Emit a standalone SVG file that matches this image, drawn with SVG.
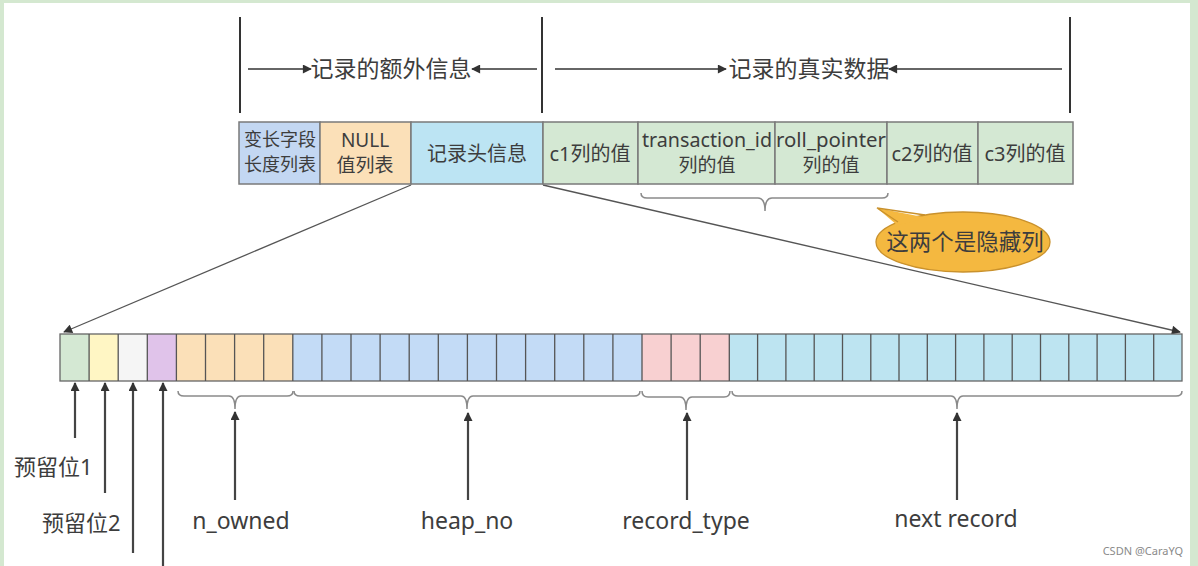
<svg xmlns="http://www.w3.org/2000/svg" width="1198" height="566" viewBox="0 0 1198 566">
<defs>
<marker id="ah" viewBox="0 0 10 10" refX="9" refY="5" markerWidth="10" markerHeight="9" markerUnits="userSpaceOnUse" orient="auto">
<path d="M0,0 L10,5 L0,10 z" fill="#333"/>
</marker>
<style>
text{font-family:"Noto Sans","Noto Sans CJK SC",sans-serif;fill:#3d3d3d}
.t22{font-size:23px}
.t18{font-size:18px;text-anchor:middle}
.t19{font-size:19px;text-anchor:middle}
.t20{font-size:20px;text-anchor:middle}
.t21{font-size:22px}
.lab{font-size:23px;text-anchor:middle}
.vbar{stroke:#333;stroke-width:2}
.arr{stroke:#333;stroke-width:1.6;fill:none;marker-end:url(#ah)}
.uarr{stroke:#444;stroke-width:2.2;fill:none;marker-end:url(#ah)}
.diag{stroke:#555;stroke-width:1.3;fill:none;marker-end:url(#ah)}
.cell{stroke:#7a7a7a;stroke-width:1.5}
.bit{stroke:#555;stroke-width:1.3}
.brace{stroke:#8a8a8a;stroke-width:1.5;fill:none}
</style>
</defs>
<rect x="0" y="0" width="1198" height="566" fill="#d4e8d0"/>
<rect x="4" y="3" width="1186" height="563" fill="#ffffff"/>

<g id="header">
<line class="vbar" x1="240" y1="17" x2="240" y2="113"/>
<line class="vbar" x1="542" y1="17" x2="542" y2="113"/>
<line class="vbar" x1="1070" y1="17" x2="1070" y2="113"/>
<line class="arr" x1="248" y1="69" x2="311" y2="69"/>
<line class="arr" x1="537" y1="69" x2="472" y2="69"/>
<line class="arr" x1="555" y1="69" x2="726" y2="69"/>
<line class="arr" x1="1062" y1="69" x2="889" y2="69"/>
<text class="t22" x="391" y="77" text-anchor="middle">记录的额外信息</text>
<text class="t22" x="809" y="77" text-anchor="middle">记录的真实数据</text>
</g>

<g id="connectors">
<line class="diag" x1="411" y1="185" x2="64" y2="332"/>
<line class="diag" x1="543" y1="185" x2="1180" y2="332"/>
</g>

<g id="record-row">
<rect class="cell" x="239" y="122" width="81" height="62" fill="#c3d7f2"/>
<rect class="cell" x="320" y="122" width="91" height="62" fill="#fbe0b8"/>
<rect class="cell" x="411" y="122" width="132" height="62" fill="#bce4f3"/>
<rect class="cell" x="543" y="122" width="95" height="62" fill="#d4e8d3"/>
<rect class="cell" x="638" y="122" width="137" height="62" fill="#d4e8d3"/>
<rect class="cell" x="775" y="122" width="112" height="62" fill="#d4e8d3"/>
<rect class="cell" x="887" y="122" width="91" height="62" fill="#d4e8d3"/>
<rect class="cell" x="978" y="122" width="95" height="62" fill="#d4e8d3"/>
<text class="t18" x="280" y="146">变长字段</text>
<text class="t18" x="280" y="171">长度列表</text>
<text class="t19" x="365" y="147">NULL</text>
<text class="t19" x="365" y="172">值列表</text>
<text class="t20" x="477" y="161">记录头信息</text>
<text class="t20" x="590" y="161">c1列的值</text>
<text class="t19" x="707" y="147" textLength="130" lengthAdjust="spacingAndGlyphs">transaction_id</text>
<text class="t19" x="707" y="172">列的值</text>
<text class="t19" x="831" y="147" textLength="110" lengthAdjust="spacingAndGlyphs">roll_pointer</text>
<text class="t19" x="831" y="172">列的值</text>
<text class="t20" x="932" y="161">c2列的值</text>
<text class="t20" x="1025" y="161">c3列的值</text>
</g>

<g id="hidden-brace">
<path class="brace" d="M641,193 Q641,198 647,198 L758,198 Q765,198 765,211 Q765,198 772,198 L882,198 Q888,198 888,193"/>
</g>

<g id="callout">
<ellipse cx="963" cy="242" rx="87" ry="30" fill="#f4b840" stroke="#c9912c" stroke-width="1.3"/>
<polygon points="897,225 877,208 928,218" fill="#f4b840"/>
<polyline points="898,222 877,208 925,215" fill="none" stroke="#c9912c" stroke-width="1.3"/>
<text x="965" y="250" text-anchor="middle" style="font-size:22.5px">这两个是隐藏列</text>
</g>

<g id="bit-row">
<rect x="60" y="334" width="29.1" height="47" fill="#d4e8d3"/>
<rect x="89.1" y="334" width="29.1" height="47" fill="#fff6c4"/>
<rect x="118.2" y="334" width="29.1" height="47" fill="#f5f5f5"/>
<rect x="147.3" y="334" width="29.1" height="47" fill="#e0c3ea"/>
<rect x="176.4" y="334" width="116.4" height="47" fill="#fbe0b8"/>
<rect x="292.8" y="334" width="349.2" height="47" fill="#c3dbf6"/>
<rect x="642" y="334" width="87.3" height="47" fill="#f8d0d1"/>
<rect x="729.3" y="334" width="452.7" height="47" fill="#bde4f1"/>
<rect x="60" y="334" width="1122" height="47" fill="none" stroke="#666" stroke-width="1.3"/>
<path class="bit" d="M89.1,334V381M118.2,334V381M147.3,334V381M176.4,334V381M205.5,334V381M234.6,334V381M263.7,334V381M292.8,334V381M321.9,334V381M351,334V381M380.1,334V381M409.2,334V381M438.3,334V381M467.4,334V381M496.5,334V381M525.6,334V381M554.7,334V381M583.8,334V381M612.9,334V381M642,334V381M671.1,334V381M700.2,334V381M729.3,334V381M757.6,334V381M785.9,334V381M814.2,334V381M842.5,334V381M870.8,334V381M899,334V381M927.3,334V381M955.6,334V381M983.9,334V381M1012.2,334V381M1040.5,334V381M1068.8,334V381M1097.1,334V381M1125.4,334V381M1153.7,334V381"/>
</g>

<g id="bit-braces">
<path class="brace" d="M178,391 Q178,396 184,396 L229,396 Q235,396 235,409 Q235,396 241,396 L287,396 Q293,396 293,391"/>
<path class="brace" d="M294,391 Q294,396 300,396 L461,396 Q467,396 467,409 Q467,396 473,396 L634,396 Q640,396 640,391"/>
<path class="brace" d="M642,391 Q642,397 648,397 L680,397 Q686,397 686,410 Q686,397 692,397 L724,397 Q730,397 730,391"/>
<path class="brace" d="M732,391 Q732,396 738,396 L951,396 Q957,396 957,409 Q957,396 963,396 L1176,396 Q1182,396 1182,391"/>
</g>

<g id="labels">
<line class="uarr" x1="75" y1="438" x2="75" y2="383"/>
<line class="uarr" x1="105" y1="493" x2="105" y2="383"/>
<line class="uarr" x1="133" y1="553" x2="133" y2="383"/>
<line class="uarr" x1="163" y1="570" x2="163" y2="383"/>
<line class="uarr" x1="235" y1="500" x2="235" y2="412"/>
<line class="uarr" x1="468" y1="500" x2="468" y2="413"/>
<line class="uarr" x1="687" y1="500" x2="687" y2="413"/>
<line class="uarr" x1="957" y1="500" x2="957" y2="413"/>
<text class="t21" x="14" y="475">预留位1</text>
<text class="t21" x="42" y="531">预留位2</text>
<text class="lab" x="241" y="529">n_owned</text>
<text class="lab" x="467" y="529">heap_no</text>
<text class="lab" x="686" y="529">record_type</text>
<text class="lab" x="956" y="527">next record</text>
<text x="1183" y="555" text-anchor="end" style="font-size:11px;fill:#8a8a8a">CSDN @CaraYQ</text>
</g>
</svg>
